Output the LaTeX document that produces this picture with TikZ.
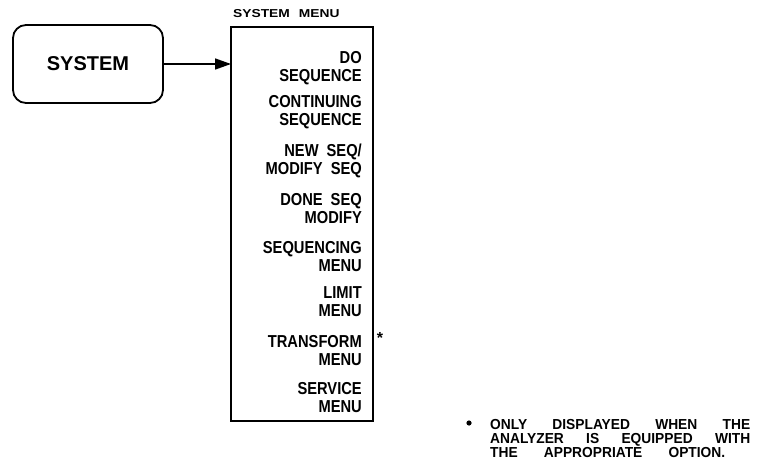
\documentclass[tikz,border=0pt]{standalone}
\usepackage{fontspec}
\setmainfont{Liberation Sans}
\newfontfamily\menufont[FakeStretch=0.85]{Liberation Sans}
\newfontfamily\labelfont[FakeStretch=1.2]{Liberation Sans}
\newfontfamily\notefont[FakeStretch=0.95]{Liberation Sans}
\usetikzlibrary{arrows.meta}
\tikzset{
  sysbox/.style={draw, line width=1.8pt, rounded corners=13pt, minimum width=150pt, minimum height=78pt, inner sep=0pt, font=\bfseries\fontsize{20}{22}\selectfont},
  menubox/.style={draw, line width=1.6pt},
  item/.style={anchor=base east, inner sep=0pt, font=\menufont\bfseries\fontsize{17.3}{18}\selectfont},
  note/.style={anchor=base west, inner sep=0pt, font=\notefont\bfseries\fontsize{14.5}{15}\selectfont},
  conn/.style={line width=1.6pt, -{Triangle[length=16pt,width=11pt]}}
}
\begin{document}
\begin{tikzpicture}[x=1pt,y=-1pt]
\useasboundingbox (0,0) rectangle (760,468);
% SYSTEM box
\node[sysbox] (sys) at (88,64) {SYSTEM};
% menu box
\coordinate (mtl) at (231,27);
\coordinate (mbr) at (373,421);
\draw[menubox] (mtl) rectangle (mbr);
\node[anchor=base west, inner sep=0pt, font=\labelfont\bfseries\fontsize{11.5}{13}\selectfont] (mlabel) at (233,18) {SYSTEM\hspace{9pt}MENU};
% arrow
\draw[conn] (sys.east) -- (sys.east -| mtl);
% items
\node[item] (i1a) at (362,64) {DO};
\node[item] (i1b) at (362,82) {SEQUENCE};
\node[item] (i2a) at (362,108) {CONTINUING};
\node[item] (i2b) at (362,126) {SEQUENCE};
\node[item] (i3a) at (362,157) {NEW\hspace{8pt}SEQ/};
\node[item] (i3b) at (362,175) {MODIFY\hspace{8pt}SEQ};
\node[item] (i4a) at (362,205) {DONE\hspace{8pt}SEQ};
\node[item] (i4b) at (362,223) {MODIFY};
\node[item] (i5a) at (362,253) {SEQUENCING};
\node[item] (i5b) at (362,271) {MENU};
\node[item] (i6a) at (362,298) {LIMIT};
\node[item] (i6b) at (362,316) {MENU};
\node[item] (i7a) at (362,347) {TRANSFORM};
\node[item] (i7b) at (362,365) {MENU};
\node[item] (i8a) at (362,394) {SERVICE};
\node[item] (i8b) at (362,412) {MENU};
% star
\node[inner sep=0pt, font=\bfseries\fontsize{16}{16}\selectfont] (star) at (380,338) {*};
% footnote
\fill (469,423) circle (2.6pt) coordinate (bullet);
\node[note] (n1) at (490,429) {\makebox[260pt][s]{ONLY DISPLAYED WHEN THE}};
\node[note] (n2) at (490,443) {\makebox[260pt][s]{ANALYZER IS EQUIPPED WITH}};
\node[note] (n3) at (490,457) {\makebox[235pt][s]{THE APPROPRIATE OPTION.}};
\end{tikzpicture}
\end{document}
